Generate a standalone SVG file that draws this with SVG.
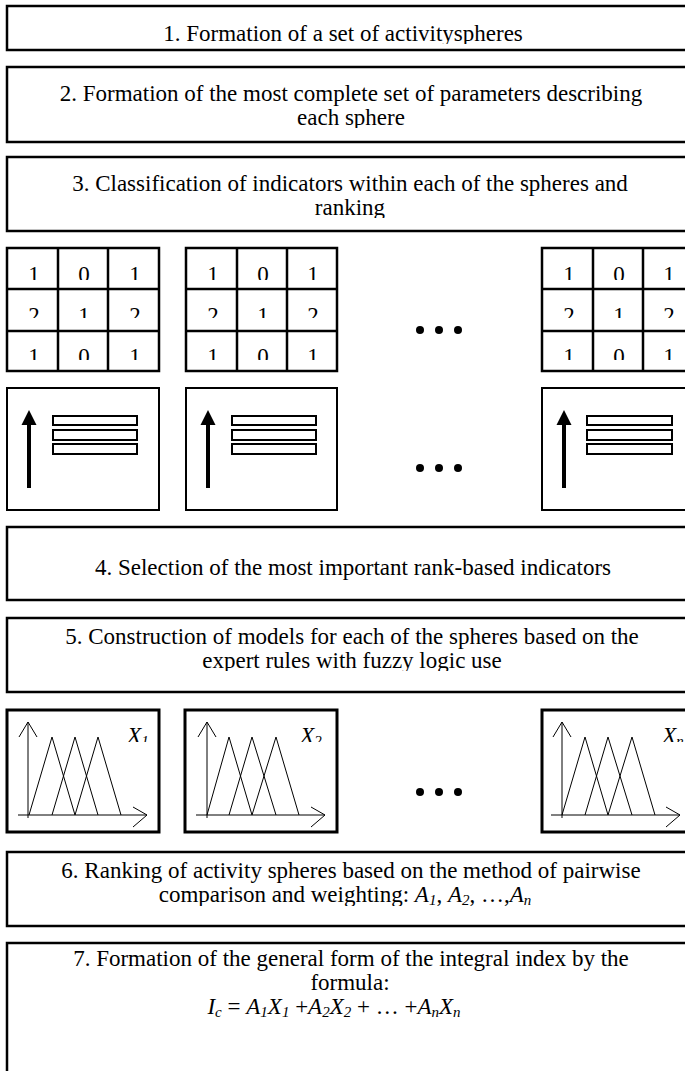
<svg xmlns="http://www.w3.org/2000/svg" width="685" height="1071" viewBox="0 0 685 1071">
<style>
.box{fill:#fff;stroke:#000;stroke-width:2.5}
.fbox{fill:#fff;stroke:#000;stroke-width:3}
.cell{fill:none;stroke:#000;stroke-width:2.5}
.sbox{fill:#fff;stroke:#000;stroke-width:2}
.bar{fill:#fff;stroke:#000;stroke-width:2}
.thin{fill:none;stroke:#000;stroke-width:1}
.t{font-family:"Liberation Serif","Times New Roman",serif;font-size:23px;fill:#000;text-anchor:middle}
.d{font-family:"Liberation Serif","Times New Roman",serif;font-size:23px;fill:#000;text-anchor:middle}
.i{font-style:italic}
</style>
<defs>
<clipPath id="r1"><rect x="0" y="240" width="685" height="40"/></clipPath>
<clipPath id="r2"><rect x="0" y="289" width="685" height="29"/></clipPath>
<clipPath id="r3"><rect x="0" y="331" width="685" height="29"/></clipPath>
<clipPath id="fl"><rect x="0" y="710" width="685" height="32"/></clipPath>
<clipPath id="c1"><rect x="0" y="0" width="685" height="44"/></clipPath>
<clipPath id="c2"><rect x="0" y="105" width="685" height="23"/></clipPath>
<clipPath id="c3"><rect x="0" y="195" width="685" height="23"/></clipPath>
<clipPath id="c5"><rect x="0" y="648" width="685" height="23"/></clipPath>
<clipPath id="c6"><rect x="0" y="882" width="685" height="24"/></clipPath>
</defs>

<g id="step1">
<rect class="box" x="7" y="6" width="688" height="44"/>
<text class="t" x="343" y="41" clip-path="url(#c1)">1. Formation of a set of activityspheres</text>
</g>

<g id="step2">
<rect class="box" x="7" y="67" width="688" height="75"/>
<text class="t" x="351" y="101">2. Formation of the most complete set of parameters describing</text>
<text class="t" x="351" y="125" clip-path="url(#c2)">each sphere</text>
</g>

<g id="step3">
<rect class="box" x="7" y="157" width="688" height="74"/>
<text class="t" x="350" y="191">3. Classification of indicators within each of the spheres and</text>
<text class="t" x="350" y="215" clip-path="url(#c3)">ranking</text>
</g>

<g id="matrix1">
<rect class="cell" x="7" y="248" width="152" height="123"/>
<path class="cell" d="M58 248V371M108 248V371M7 289H159M7 331H159"/>
<g class="d" clip-path="url(#r1)"><text x="34" y="282">1</text><text x="84" y="282">0</text><text x="135" y="282">1</text></g>
<g class="d" clip-path="url(#r2)"><text x="34" y="323">2</text><text x="84" y="323">1</text><text x="135" y="323">2</text></g>
<g class="d" clip-path="url(#r3)"><text x="34" y="364">1</text><text x="84" y="364">0</text><text x="135" y="364">1</text></g>
</g>
<g id="matrix2">
<rect class="cell" x="186" y="248" width="151" height="123"/>
<path class="cell" d="M237 248V371M287 248V371M186 289H337M186 331H337"/>
<g class="d" clip-path="url(#r1)"><text x="213" y="282">1</text><text x="263" y="282">0</text><text x="313" y="282">1</text></g>
<g class="d" clip-path="url(#r2)"><text x="213" y="323">2</text><text x="263" y="323">1</text><text x="313" y="323">2</text></g>
<g class="d" clip-path="url(#r3)"><text x="213" y="364">1</text><text x="263" y="364">0</text><text x="313" y="364">1</text></g>
</g>
<g id="dots1"><circle cx="420" cy="330" r="4"/><circle cx="439" cy="330" r="4"/><circle cx="458" cy="330" r="4"/></g>
<g id="matrix3">
<rect class="cell" x="542" y="248" width="152" height="123"/>
<path class="cell" d="M593 248V371M643 248V371M542 289H694M542 331H694"/>
<g class="d" clip-path="url(#r1)"><text x="569" y="282">1</text><text x="619" y="282">0</text><text x="669" y="282">1</text></g>
<g class="d" clip-path="url(#r2)"><text x="569" y="323">2</text><text x="619" y="323">1</text><text x="669" y="323">2</text></g>
<g class="d" clip-path="url(#r3)"><text x="569" y="364">1</text><text x="619" y="364">0</text><text x="669" y="364">1</text></g>
</g>

<g id="rank1">
<rect class="sbox" x="7" y="388" width="152" height="122"/>
<path d="M29 488V420" stroke="#000" stroke-width="4"/>
<path d="M21.5 425L29 410L36.5 425Z"/>
<rect class="bar" x="53" y="416" width="84" height="9"/>
<rect class="bar" x="53" y="430" width="84" height="10"/>
<rect class="bar" x="53" y="444" width="84" height="10"/>
</g>
<g id="rank2">
<rect class="sbox" x="186" y="388" width="151" height="122"/>
<path d="M208 488V420" stroke="#000" stroke-width="4"/>
<path d="M200.5 425L208 410L215.5 425Z"/>
<rect class="bar" x="232" y="416" width="84" height="9"/>
<rect class="bar" x="232" y="430" width="84" height="10"/>
<rect class="bar" x="232" y="444" width="84" height="10"/>
</g>
<g id="dots2"><circle cx="420" cy="468" r="4"/><circle cx="439" cy="468" r="4"/><circle cx="458" cy="468" r="4"/></g>
<g id="rank3">
<rect class="sbox" x="542" y="388" width="152" height="122"/>
<path d="M564 488V420" stroke="#000" stroke-width="4"/>
<path d="M556.5 425L564 410L571.5 425Z"/>
<rect class="bar" x="587" y="416" width="85" height="9"/>
<rect class="bar" x="587" y="430" width="85" height="10"/>
<rect class="bar" x="587" y="444" width="85" height="10"/>
</g>

<g id="step4">
<rect class="box" x="7" y="527" width="688" height="73"/>
<text class="t" x="353" y="575">4. Selection of the most important rank-based indicators</text>
</g>

<g id="step5">
<rect class="box" x="7" y="618" width="688" height="74"/>
<text class="t" x="352" y="644">5. Construction of models for each of the spheres based on the</text>
<text class="t" x="352" y="668" clip-path="url(#c5)">expert rules with fuzzy logic use</text>
</g>

<g id="fuzzy1">
<rect class="fbox" x="7" y="710" width="152" height="122"/>
<path class="thin" d="M28 818V722M19 737L28 722L37 737M18 815H147M133 807L147 815L133 827"/>
<path class="thin" d="M29 815L52 737L75 815M52 815L75 737L98 815M75 815L98 737L121 815"/>
<text class="t i" x="138" y="743" clip-path="url(#fl)">X<tspan font-size="15" dy="3">1</tspan></text>
</g>
<g id="fuzzy2">
<rect class="fbox" x="185" y="710" width="152" height="122"/>
<path class="thin" d="M207 818V722M198 737L207 722L216 737M196 815H325M311 807L325 815L311 827"/>
<path class="thin" d="M207 815L229 737L252 815M229 815L252 737L276 815M252 815L276 737L299 815"/>
<text class="t i" x="311" y="743" clip-path="url(#fl)">X<tspan font-size="15" dy="3">2</tspan></text>
</g>
<g id="dots3"><circle cx="420" cy="792" r="4"/><circle cx="439" cy="792" r="4"/><circle cx="458" cy="792" r="4"/></g>
<g id="fuzzy3">
<rect class="fbox" x="542" y="710" width="152" height="122"/>
<path class="thin" d="M562 818V722M553 737L562 722L571 737M551 815H680M666 807L680 815L666 827"/>
<path class="thin" d="M562 815L585 737L608 815M585 815L608 737L632 815M608 815L632 737L655 815"/>
<text class="t i" x="673" y="743" clip-path="url(#fl)">X<tspan font-size="15" dy="3">n</tspan></text>
</g>

<g id="step6">
<rect class="box" x="7" y="852" width="688" height="74"/>
<text class="t" x="351" y="878">6. Ranking of activity spheres based on the method of pairwise</text>
<text class="t" x="345" y="902" clip-path="url(#c6)">comparison and weighting: <tspan class="i">A</tspan><tspan class="i" font-size="15" dy="3">1</tspan><tspan dy="-3">, </tspan><tspan class="i">A</tspan><tspan class="i" font-size="15" dy="3">2</tspan><tspan dy="-3">, …,</tspan><tspan class="i">A</tspan><tspan class="i" font-size="15" dy="3">n</tspan></text>
</g>

<g id="step7">
<rect class="box" x="7" y="943" width="688" height="140"/>
<text class="t" x="351" y="966">7. Formation of the general form of the integral index by the</text>
<text class="t" x="350" y="990">formula:</text>
<text class="t" x="334" y="1014"><tspan class="i">I</tspan><tspan class="i" font-size="15" dy="3">c</tspan><tspan dy="-3"> = </tspan><tspan class="i">A</tspan><tspan class="i" font-size="15" dy="3">1</tspan><tspan class="i" dy="-3">X</tspan><tspan class="i" font-size="15" dy="3">1</tspan><tspan dy="-3"> +</tspan><tspan class="i">A</tspan><tspan class="i" font-size="15" dy="3">2</tspan><tspan class="i" dy="-3">X</tspan><tspan class="i" font-size="15" dy="3">2</tspan><tspan dy="-3"> + … +</tspan><tspan class="i">A</tspan><tspan class="i" font-size="15" dy="3">n</tspan><tspan class="i" dy="-3">X</tspan><tspan class="i" font-size="15" dy="3">n</tspan></text>
</g>
</svg>
